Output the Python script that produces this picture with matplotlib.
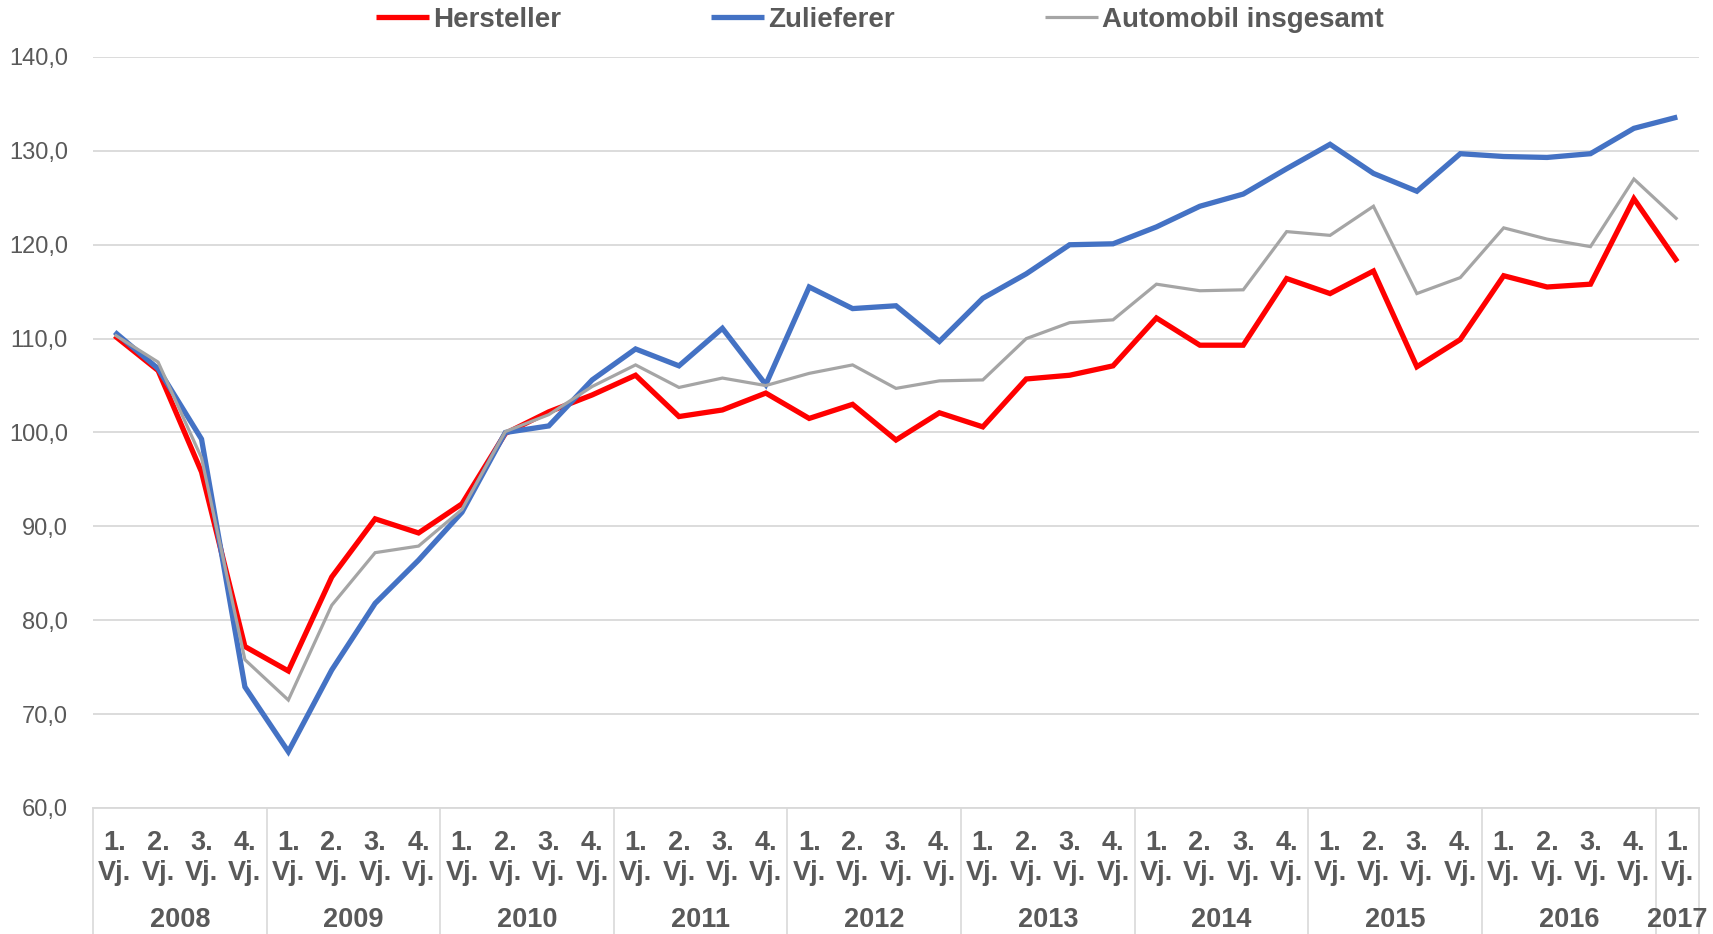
import matplotlib
matplotlib.use("Agg")
import matplotlib.pyplot as plt
from matplotlib.transforms import blended_transform_factory
import numpy as np

years = ["2008", "2009", "2010", "2011", "2012", "2013", "2014", "2015", "2016", "2017"]
quarters_per_year = [4, 4, 4, 4, 4, 4, 4, 4, 4, 1]
quarter_top = ["1.", "2.", "3.", "4."]
quarter_bottom = "Vj."

hersteller = [110.3, 106.6, 95.8, 77.2, 74.6, 84.6, 90.8, 89.3, 92.4, 99.9,
              102.2, 104.0, 106.1, 101.7, 102.4, 104.2, 101.5, 103.0, 99.2, 102.1,
              100.6, 105.7, 106.1, 107.1, 112.2, 109.3, 109.3, 116.4, 114.8, 117.2,
              107.0, 109.9, 116.7, 115.5, 115.8, 124.9, 118.2]
zulieferer = [110.7, 106.8, 99.3, 72.9, 66.0, 74.7, 81.8, 86.4, 91.5, 100.0,
              100.7, 105.6, 108.9, 107.1, 111.1, 105.1, 115.5, 113.2, 113.5, 109.7,
              114.3, 116.9, 120.0, 120.1, 121.9, 124.1, 125.4, 128.1, 130.7, 127.6,
              125.7, 129.7, 129.4, 129.3, 129.7, 132.4, 133.6]
gesamt = [110.4, 107.5, 97.3, 75.8, 71.5, 81.6, 87.2, 87.9, 91.8, 100.1,
          101.9, 104.9, 107.2, 104.8, 105.8, 105.0, 106.3, 107.2, 104.7, 105.5,
          105.6, 110.0, 111.7, 112.0, 115.8, 115.1, 115.2, 121.4, 121.0, 124.1,
          114.8, 116.5, 121.8, 120.6, 119.8, 127.0, 122.7]

series_names = ["Hersteller", "Zulieferer", "Automobil insgesamt"]
colors = ["#FF0000", "#4472C4", "#A5A5A5"]
widths = [3.8, 3.8, 2.3]
text_color = "#595959"

plt.rcParams["font.family"] = ["Liberation Sans", "DejaVu Sans"]

W, H = 1713, 934
fig = plt.figure(figsize=(W / 100, H / 100), dpi=100)
ax_top, ax_bot = 57, 808
ax = fig.add_axes([93 / W, 1 - ax_bot / H, (1699 - 93) / W, (ax_bot - ax_top) / H])
ah = ax_bot - ax_top

n = len(hersteller)
x = np.arange(n)
lines = []
for vals, name, c, lw in zip([hersteller, zulieferer, gesamt], series_names, colors, widths):
    ln, = ax.plot(x, vals, color=c, lw=lw, label=name, solid_joinstyle="miter",
                  solid_capstyle="butt", zorder=3)
    lines.append(ln)

ax.set_xlim(-0.5, n - 0.5)
ax.set_ylim(60, 140)
yt = np.arange(60, 141, 10)
ax.set_yticks(yt)
ax.set_yticklabels([f"{v:.1f}".replace(".", ",") for v in yt])
ax.yaxis.grid(True, color="#D9D9D9", lw=1.3, zorder=0)
ax.set_axisbelow(True)
for s in ["top", "right", "left"]:
    ax.spines[s].set_visible(False)
ax.spines["bottom"].set_color("#D9D9D9")
ax.spines["bottom"].set_linewidth(1.3)
ax.tick_params(axis="y", length=0, pad=18, labelsize=17, labelcolor=text_color)
ax.set_xticks([])

trans = blended_transform_factory(ax.transData, ax.transAxes)
ext = (H - ax_bot) / ah
start = -0.5
bounds = [start]
i = 0
for yr, nq in zip(years, quarters_per_year):
    end = start + nq
    for q in range(nq):
        ax.text(i, -(843 - ax_bot) / ah, quarter_top[q], transform=trans, ha="center",
                va="center", fontsize=19.5, color=text_color, fontweight="bold")
        ax.text(i, -(873 - ax_bot) / ah, quarter_bottom, transform=trans, ha="center",
                va="center", fontsize=19.5, color=text_color, fontweight="bold")
        i += 1
    ax.text((start + end) / 2, -(920 - ax_bot) / ah, yr, transform=trans, ha="center",
            va="center", fontsize=19.5, color=text_color, fontweight="bold")
    bounds.append(end)
    start = end
for b in bounds:
    ax.plot([b, b], [0, -ext], transform=trans, color="#D9D9D9", lw=1.2, clip_on=False)

leg = fig.legend(handles=lines, loc="center", bbox_to_anchor=(880 / W, 1 - 20 / H),
                 ncol=3, frameon=False, fontsize=20, handlelength=1.9,
                 handletextpad=0.15, columnspacing=5.4)
for t in leg.get_texts():
    t.set_color(text_color)
    t.set_fontweight("bold")

fig.savefig("out.png", dpi=100, facecolor="white")
